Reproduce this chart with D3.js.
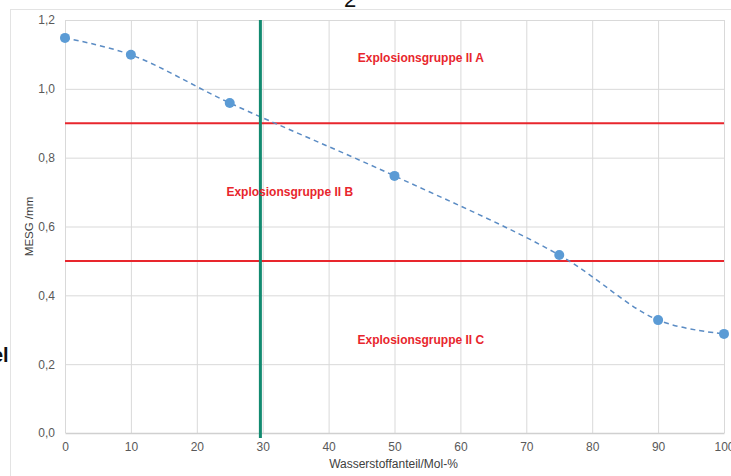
<!DOCTYPE html>
<html>
<head>
<meta charset="utf-8">
<script src="https://cdn.jsdelivr.net/npm/d3@7"></script>
<style>
  body { margin: 0; background: #fff; }
  svg { display: block; font-family: "Liberation Sans", Arial, sans-serif; }
</style>
</head>
<body>
<div id="chart"></div>
<script>
// values
const hydrogen = [0, 10, 25, 50, 75, 90, 100];
const mesg = [1.148, 1.099, 0.959, 0.747, 0.517, 0.328, 0.288];
const groupLimits = [0.9, 0.5];
const markerX = 29.65;
const xTicks = [0, 10, 20, 30, 40, 50, 60, 70, 80, 90, 100];
const yTicks = [0, 0.2, 0.4, 0.6, 0.8, 1.0, 1.2];
const groupLabels = [
  { text: "Explosionsgruppe II A", x: 54, y: 1.078 },
  { text: "Explosionsgruppe II B", x: 34.1, y: 0.688 },
  { text: "Explosionsgruppe II C", x: 54, y: 0.258 }
];

const width = 731, height = 476;
const margin = { top: 20, right: 7, bottom: 43, left: 65 };
const w = width - margin.left - margin.right;
const h = height - margin.top - margin.bottom;

const svg = d3.select("#chart").append("svg").attr("width", width).attr("height", height);

// outer frame of the chart object (cropped)
svg.append("rect").attr("x", 10.5).attr("y", 9.5).attr("width", 730).attr("height", 480)
  .attr("fill", "none").attr("stroke", "#e3e3e3");

// cropped fragments of the surrounding page
svg.append("text").attr("x", 350).attr("y", 7).attr("text-anchor", "middle")
  .attr("font-size", 22).attr("fill", "#111").text("2");
svg.append("text").attr("x", -8).attr("y", 362)
  .attr("font-size", 20).attr("font-weight", "bold").attr("fill", "#111").text("el");

const g = svg.append("g").attr("transform", `translate(${margin.left},${margin.top})`);

const x = d3.scaleLinear().domain([0, 100]).range([0, w]);
const y = d3.scaleLinear().domain([0, 1.2]).range([h, 0]);

// gridlines
g.append("g").selectAll("line").data(yTicks.slice(1)).join("line")
  .attr("x1", 0).attr("x2", w).attr("y1", d => y(d) + 0.5).attr("y2", d => y(d) + 0.5)
  .attr("stroke", "#d9d9d9");
g.append("g").selectAll("line").data(xTicks).join("line")
  .attr("y1", 0).attr("y2", h).attr("x1", d => x(d) + 0.5).attr("x2", d => x(d) + 0.5)
  .attr("stroke", "#d9d9d9");

// x axis
const xAxis = g.append("g").attr("transform", `translate(0,${h})`)
  .call(d3.axisBottom(x).tickValues(xTicks).tickSize(0).tickPadding(9));
xAxis.select(".domain").attr("stroke", "#d0d0d0").attr("stroke-width", 1.5);
xAxis.selectAll("text").attr("font-size", 12).attr("fill", "#595959");

// y axis
const yAxis = g.append("g")
  .call(d3.axisLeft(y).tickValues(yTicks).tickSize(0).tickPadding(10)
    .tickFormat(d => d3.format(".1f")(d).replace(".", ",")));
yAxis.select(".domain").remove();
yAxis.selectAll("text").attr("font-size", 12).attr("fill", "#595959");

// axis titles
svg.append("text").attr("x", margin.left + x(50) - 1).attr("y", 468).attr("text-anchor", "middle")
  .attr("font-size", 12).attr("fill", "#404040").text("Wasserstoffanteil/Mol-%");
svg.append("text").attr("transform", `translate(33,${margin.top + y(0.6)}) rotate(-90)`)
  .attr("text-anchor", "middle").attr("font-size", 11.5).attr("fill", "#404040").text("MESG /mm");

// group limits
g.append("g").selectAll("line").data(groupLimits).join("line")
  .attr("x1", 0).attr("x2", w).attr("y1", d => y(d)).attr("y2", d => y(d))
  .attr("stroke", "#e8262d").attr("stroke-width", 2);

// data series
const pts = hydrogen.map((v, i) => [v, mesg[i]]);
g.append("path").datum(pts)
  .attr("d", d3.line().x(d => x(d[0])).y(d => y(d[1])).curve(d3.curveCatmullRom.alpha(0.5)))
  .attr("fill", "none").attr("stroke", "#5b8cc4").attr("stroke-width", 1.5)
  .attr("stroke-dasharray", "5,4");
g.append("g").selectAll("circle").data(pts).join("circle")
  .attr("cx", d => x(d[0])).attr("cy", d => y(d[1])).attr("r", 5)
  .attr("fill", "#5b9bd5");

// vertical marker
g.append("line").attr("x1", x(markerX)).attr("x2", x(markerX)).attr("y1", 0).attr("y2", h + 5)
  .attr("stroke", "#128a70").attr("stroke-width", 3);

// group labels
g.append("g").selectAll("text").data(groupLabels).join("text")
  .attr("x", d => x(d.x)).attr("y", d => y(d.y)).attr("text-anchor", "middle")
  .attr("font-size", 12).attr("font-weight", "bold").attr("fill", "#e8262d")
  .text(d => d.text);
</script>
</body>
</html>
